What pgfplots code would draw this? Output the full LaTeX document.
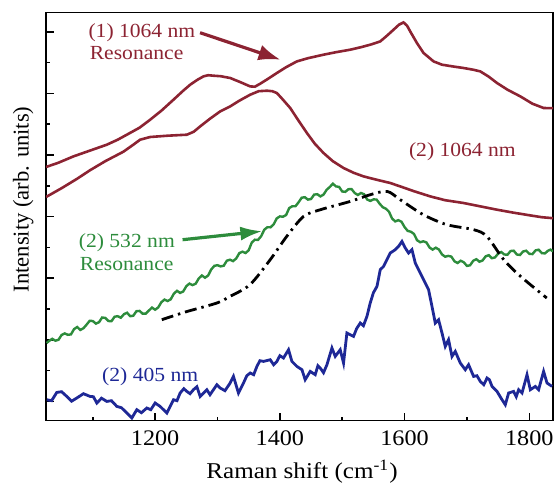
\documentclass[border=0pt]{standalone}
\usepackage{fontspec}
\setmainfont{Liberation Serif}
\usepackage{pgfplots}
\pgfplotsset{compat=1.18}
\usetikzlibrary{arrows.meta}
\definecolor{cred}{RGB}{140,35,50}
\definecolor{cgreen}{RGB}{45,140,60}
\definecolor{cblue}{RGB}{30,40,150}
\begin{document}
\begin{tikzpicture}
\path[use as bounding box] (-23pt,-31.5pt) rectangle (255pt,210.35pt);
\begin{axis}[
  at={(0,0)}, anchor=south west, scale only axis,
  width=253.5pt, height=204.15pt,
  xmin=1025, xmax=1838, ymin=0, ymax=408.3,
  tick pos=left, tick align=inside,
  xtick={1200,1400,1600,1800}, minor xtick={1100,1300,1500,1700},
  ytick={19.3,80.9,142.5,204.1,265.7,327.3,388.9},
  minor ytick={50.1,111.7,173.3,234.9,296.5,358.1},
  yticklabels={},
  major tick length=3.8pt, minor tick length=1.8pt,
  every tick/.style={black, line width=0.8pt},
  axis line style={line width=0.6pt},
  /pgf/number format/assume math mode=true,
  /pgf/number format/1000 sep={},
  xticklabel style={font=\fontsize{11.1}{13}\selectfont, xscale=1.09, yshift=-1.5pt},
  xlabel={Raman shift (cm\textsuperscript{-1})},
  xlabel style={font=\fontsize{11.3}{13}\selectfont, xscale=1.11, at={(axis description cs:0.505,-0.1407)}, anchor=base},
  ylabel={Intensity (arb. units)},
  ylabel style={font=\fontsize{11.3}{13}\selectfont, at={(axis description cs:-0.045,0.542)}, anchor=center},
]
% (1) 1064 nm resonance
\addplot[cred, line width=1.3pt] coordinates {
(1025,253.7) (1045,258) (1069,264.3) (1095,270) (1122.5,276) (1140,281)
(1154.6,286) (1175,293) (1192,301) (1210,310) (1229.4,321) (1245,330)
(1256.2,336) (1268,341) (1277.5,344.3) (1285,345.5) (1293.5,345) (1305,344.5)
(1320.3,342.7) (1335,339) (1352.4,334.3) (1360,334) (1368.5,337) (1380,341.5)
(1395.2,347.7) (1410,353.5) (1427.3,359.3) (1445,362.5) (1470,366) (1490,368.5)
(1512.8,371) (1530,373.5) (1544.9,376) (1555,378) (1561,379.3) (1571.7,385)
(1582.3,391) (1591,396) (1598.3,398.3) (1604,395) (1609,389.3) (1619.8,377.7)
(1630.4,367.7) (1646.5,359.3) (1660,356) (1680,354) (1694.6,352.7) (1710,351)
(1721.4,349.3) (1735,344) (1748.2,337.7) (1765,331) (1785.6,324.3) (1805,317)
(1822.9,312.7) (1838,312.5)};
% (2) 1064 nm
\addplot[cred, line width=1.3pt] coordinates {
(1025,223.7) (1050,232.5) (1075,242) (1095.7,250.5) (1120,259.5) (1149.1,269)
(1165,276) (1175.9,281) (1192,283.7) (1220,285) (1250.9,286) (1262,289)
(1272.2,294.3) (1288,302) (1304.3,309.3) (1320.3,314.3) (1335,320) (1352.4,326)
(1366,329.5) (1379.2,330) (1388,329.5) (1395.2,327.7) (1405,321) (1416.6,312.7)
(1430,300) (1443.4,287.7) (1456,277) (1470,267.7) (1485,259.5) (1502.1,252.7)
(1518,248) (1534.2,244.3) (1555,241) (1577,237.7) (1593,234.3) (1615,229.5)
(1641.2,224.3) (1665,220.5) (1694.6,217.7) (1720,214.5) (1748.2,211) (1775,208)
(1801.6,205.3) (1820,203.5) (1838,202.5)};
% (2) 532 nm resonance
\addplot[cgreen, line width=1.2pt] coordinates {
(1026,77.7) (1030,79.8) (1035,81.9) (1040,80) (1045,80.9) (1050,85.7) (1055,87.3)
(1060,85.9) (1065,86.3) (1070,91.6) (1075,93.7) (1080,90.8) (1085,92.4) (1090,96)
(1095,99.9) (1100,99.7) (1105,97.1) (1110,98.5) (1115,103.2) (1120,102.8)
(1125,99.7) (1130,99.5) (1135,104) (1140,104.5) (1145,103) (1150,106.5) (1155,108)
(1160,104.5) (1165,105) (1170,109.5) (1175,109.8) (1180,107) (1185,107.1)
(1190,110.2) (1195,113.1) (1200,111) (1205,113.3) (1210,118.5) (1215,121.1)
(1220,119.7) (1225,121.4) (1230,127) (1235,129.9) (1240,127.8) (1245,129.2)
(1250,134.5) (1255,137.1) (1260,135.6) (1265,137) (1270,142.3) (1275,145.2)
(1280,143) (1285,145.2) (1290,151.3) (1295,154.9) (1300,155.5) (1305,154.3)
(1310,155) (1315,160) (1320,161) (1325,159.6) (1330,162.2) (1335,167.6) (1340,169)
(1345,167.7) (1350,170.4) (1355,178.2) (1360,181) (1365,180.8) (1370,184.5)
(1375,191) (1380,193.5) (1385,193.4) (1390,196.3) (1395,202.3) (1400,204.3)
(1405,204) (1410,205.7) (1415,212.6) (1420,214.5) (1425,214.5) (1430,218.4)
(1435,223) (1440,223.5) (1445,221.1) (1450,221.7) (1455,226.1) (1460,226.5)
(1465,224.3) (1470,226.1) (1475,230.9) (1480,233.7) (1485,237) (1490,234.3)
(1495,233.8) (1500,229.2) (1505,228.9) (1510,231.5) (1515,231.6) (1520,227.7)
(1525,225.7) (1530,227.7) (1535,226.5) (1540,221.2) (1545,219.8) (1550,221.3)
(1555,221.2) (1560,217) (1565,213.5) (1570,212) (1575,209) (1580,202.1)
(1585,199.3) (1590,200.5) (1595,199) (1600,193.6) (1605,189.8) (1610,189)
(1615,186.8) (1620,180.5) (1625,178.5) (1630,179.4) (1635,178.3) (1640,173.2)
(1645,171.1) (1650,173) (1655,171.2) (1660,166.3) (1665,164) (1670,164.8)
(1675,164.1) (1680,159.4) (1685,157.7) (1690,160) (1695,158.4) (1700,154.8)
(1705,155.4) (1710,159.9) (1715,161.5) (1720,159) (1725,160.2) (1730,164.4)
(1735,165.5) (1740,162.5) (1745,163.3) (1750,167.1) (1755,168.7) (1760,166.2)
(1765,166) (1770,169.7) (1775,170) (1780,166.2) (1785,165.7) (1790,169.2)
(1795,170) (1800,166.9) (1805,166.6) (1810,170.3) (1815,171) (1820,167.6)
(1825,167.3) (1830,170) (1834,171.1) (1838,169.3)};
% dash-dot reference
\addplot[black, line width=1.4pt, smooth, dash pattern=on 6pt off 2.5pt on 1.2pt off 2.5pt] coordinates {
(1210.7,101) (1250,109) (1299,117.7) (1320,124.3) (1352,136) (1384.5,161)
(1411,184.3) (1438,204.3) (1465,211) (1513,219.3) (1545,226) (1572,229.3)
(1593,221) (1630,206) (1668,196) (1711,191) (1732,184.3) (1759,161)
(1786,144.3) (1828,122.7)};
% (2) 405 nm
\addplot[cblue, line width=1.4pt] coordinates {
(1026.3,21) (1034,20) (1042.3,28.3) (1050,29) (1058.3,24.3) (1066,19.5)
(1074.4,22.7) (1085,27) (1095.7,24.3) (1101,24) (1106.5,17.7) (1114,22.5)
(1122.5,19.3) (1130,20) (1138.6,14.3) (1146,13) (1154.6,7.7) (1162.6,2.7)
(1170.6,11) (1178,8) (1186.7,12.7) (1193,11) (1200,17.7) (1208,14.3) (1218.8,7.7)
(1229.4,21) (1235,20) (1240.1,27.7) (1246,32) (1250.9,29.3) (1256,27) (1261.4,31)
(1267,34) (1272.2,24.3) (1282.9,31) (1288,26) (1293.5,31) (1299,36) (1304.3,32.7)
(1312,30) (1320.3,37.7) (1325.6,44.3) (1333.6,27.7) (1341.7,37.7) (1347,45)
(1352.4,47.7) (1358,46) (1363.2,54.3) (1368,60) (1373.7,59.3) (1384.5,61)
(1390,56) (1395.2,59.3) (1400,65) (1405.8,62.7) (1413.9,71) (1419.3,59.3)
(1427.3,54.3) (1435.4,51) (1440.6,41) (1448.7,49.3) (1456.7,46) (1461,55)
(1464.7,52.7) (1470,48) (1475.5,56) (1483.5,72.7) (1488.8,64.3) (1496.8,71)
(1502.1,57.7) (1507.5,87.7) (1518.1,84.3) (1523,92) (1528.9,97.7) (1534,95)
(1539.6,104.3) (1544.9,117.7) (1550,128) (1555.7,134.3) (1561,151) (1566.3,154.3)
(1569,157.7) (1577,167.7) (1585,171) (1590.3,174.3) (1595.8,179.3) (1601.1,172.7)
(1606.4,167.7) (1611.8,171) (1617.1,157.7) (1622.4,151) (1627.9,144.3) (1633.2,137.7)
(1638.5,131) (1643.9,114.3) (1649.2,97.7) (1654.5,101) (1660,87.7) (1665.2,74.3)
(1670.5,81) (1676,64.3) (1681.3,69.3) (1689.3,57.7) (1697.3,51) (1702.6,56)
(1710.7,44.3) (1716,45) (1721.4,39.3) (1727,36) (1732.2,42.7) (1736,41)
(1740.2,34.3) (1748.2,29.3) (1756.2,21) (1761.5,16) (1766.8,27.7) (1774.8,29.3)
(1779,24) (1782.9,31) (1788.3,27.7) (1796.3,46) (1801.6,31) (1809.6,34.3)
(1814.9,31) (1822.9,49.3) (1828.4,37.7) (1836.4,34.3)};

\tikzset{ann/.style={font=\fontsize{10}{12}\selectfont, xscale=1.08, anchor=base west, inner sep=0pt}}
\node[ann, text=cred] at (axis cs:1092.5,383.7) {(1) 1064 nm};
\node[ann, text=cred] at (axis cs:1094.6,361) {Resonance};
\node[ann, text=cred] at (axis cs:1606.4,264.3) {(2) 1064 nm};
\node[ann, text=cgreen] at (axis cs:1077,173.7) {(2) 532 nm};
\node[ann, text=cgreen] at (axis cs:1078.6,150.3) {Resonance};
\node[ann, text=cblue] at (axis cs:1114.5,39.3) {(2) 405 nm};
\draw[cred, line width=1.6pt, -{Latex[length=11pt,width=8pt]}] (axis cs:1272,388) -- (axis cs:1401,361);
\draw[cgreen, line width=1.6pt, -{Latex[length=11pt,width=7pt]}] (axis cs:1244,181) -- (axis cs:1372,189.5);
\end{axis}
\end{tikzpicture}
\end{document}
